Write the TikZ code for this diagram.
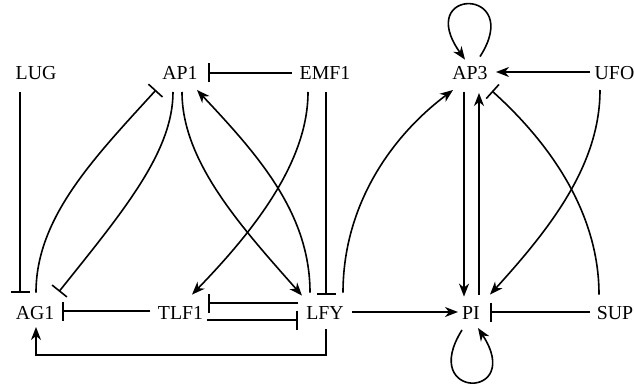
\documentclass[tikz,border=0pt]{standalone}
\usepackage{fontspec}
\setmainfont{Liberation Serif}
\usetikzlibrary{arrows.meta,calc}
\begin{document}
\begin{tikzpicture}[x=1pt,y=-1pt,
  gene/.style={inner sep=0pt, text height=13pt, text depth=0pt, font=\fontsize{19.8}{23}\selectfont, anchor=south},
  link/.style={line width=1.6pt},
  act/.style={link, -{Stealth[length=13pt,width=10pt,inset=4pt]}},
  inh/.style={link, -{Bar[width=19pt]}}]
\useasboundingbox (0,0) rectangle (634,385);
\node[gene] (LUG) at (36,80) {LUG};
\node[gene] (AP1) at (180,80) {AP1};
\node[gene] (EMF1) at (325,80) {EMF1};
\node[gene] (AP3) at (470,80) {AP3};
\node[gene] (UFO) at (614.5,80) {UFO};
\node[gene] (AG1) at (35,320) {AG1};
\node[gene] (TLF1) at (180.5,320) {TLF1};
\node[gene] (LFY) at (325,320) {LFY};
\node[gene] (PI) at (471,320) {PI};
\node[gene] (SUP) at (615,320) {SUP};
% top row
\draw[inh] ($(EMF1.south)+(-33,-7)$) -- ($(AP1.south)+(28,-7)$);
\draw[act] ($(UFO.south)+(-24.5,-8)$) -- ($(AP3.south)+(26,-8)$);
% verticals
\draw[inh] ($(LUG.south)+(-16,12)$) -- ($(AG1.north)+(-15,-14)$);
\draw[inh] ($(EMF1.south)+(1,12)$) -- ($(LFY.north)+(1,-12)$);
\draw[act] ($(AP3.south)+(-6,12)$) -- ($(PI.north)+(-7,-10)$);
\draw[act] ($(PI.north)+(8,-12)$) -- ($(AP3.south)+(9,13)$);
% curves
\draw[inh] ($(AG1.north)+(1,-14)$) .. controls +(0,-75) and +(-62,68) .. ($(AP1.south)+(-24,10)$);
\draw[inh] ($(AP1.south)+(-7,12)$) .. controls +(0,60) and +(64,-80) .. ($(AG1.north)+(24,-15)$);
\draw[act] ($(AP1.south)+(2,12)$) .. controls +(0,70) and +(-60,-68) .. ($(LFY.north)+(-23,-11)$);
\draw[act] ($(LFY.north)+(-15,-14)$) .. controls +(0,-80) and +(60,64) .. ($(AP1.south)+(17,10)$);
\draw[act] ($(EMF1.south)+(-17,12)$) .. controls +(0,70) and +(62,-64) .. ($(TLF1.north)+(11.5,-12)$);
\draw[act] ($(LFY.north)+(18,-14)$) .. controls +(0,-85) and +(-64,48) .. ($(AP3.south)+(-17,10)$);
\draw[act] ($(UFO.south)+(-14.5,10)$) .. controls +(0,75) and +(60,-66) .. ($(PI.north)+(19,-12)$);
\draw[inh] ($(SUP.north)+(-16,-12)$) .. controls +(0,-80) and +(60,54) .. ($(AP3.south)+(22,11)$);
% bottom row
\draw[inh] ($(SUP.south)+(-25,-8)$) -- ($(PI.south)+(19,-8)$);
\draw[act] ($(LFY.south)+(27,-8)$) -- ($(PI.south)+(-13,-8)$);
\draw[inh] ($(LFY.south)+(-27,-17)$) -- ($(TLF1.south)+(27.5,-17)$);
\draw[inh] ($(TLF1.south)+(26.5,0)$) -- ($(LFY.south)+(-27,0)$);
\draw[inh] ($(TLF1.south)+(-30.5,-9)$) -- ($(AG1.south)+(27,-9)$);
\draw[act] ($(LFY.south)+(1,9)$) -- ++(0,26) -| ($(AG1.south)+(1,7)$);
% self loops
\draw[act] ($(AP3.north)+(10,-10)$) .. controls +(45,-70) and +(-52,-73) .. ($(AP3.north)+(-5,-7)$);
\draw[act] ($(PI.south)+(-9,10)$) .. controls +(-44,70) and +(47,72) .. ($(PI.south)+(7,8)$);
\end{tikzpicture}
\end{document}
